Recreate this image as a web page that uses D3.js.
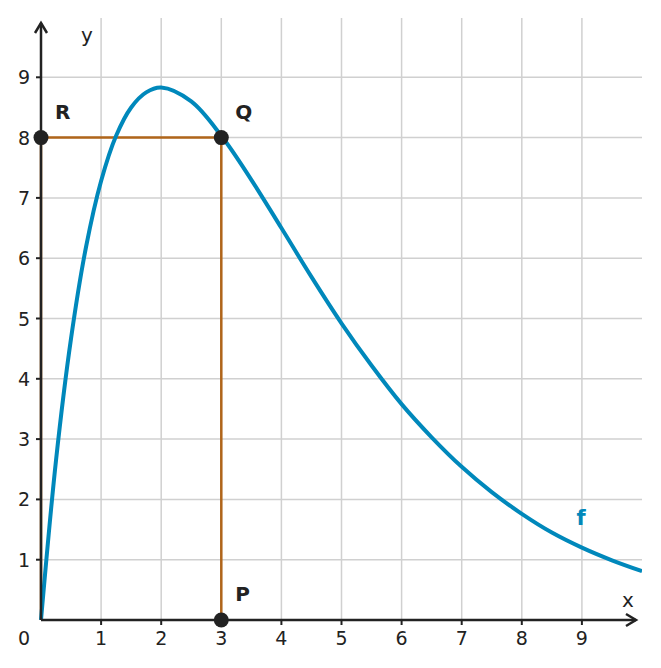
<!DOCTYPE html>
<html>
<head>
<meta charset="utf-8">
<script src="https://cdn.jsdelivr.net/npm/d3@7"></script>
<style>body{margin:0;background:#fff}text{font-family:"DejaVu Sans",sans-serif}</style>
</head>
<body>
<svg id="chart" width="661" height="668"></svg>
<script>
// values
const curveX = [0, 0.25, 0.5, 0.75, 1, 1.25, 1.5, 1.75, 2, 2.5, 3, 3.5, 4, 4.5, 5, 5.5, 6, 6.5, 7, 7.5, 8, 8.5, 9, 9.5, 10];
const curveY = [0, 2.65, 4.67, 6.19, 7.28, 8.03, 8.5, 8.75, 8.83, 8.6, 8.03, 7.3, 6.5, 5.69, 4.92, 4.22, 3.58, 3.03, 2.54, 2.12, 1.76, 1.45, 1.2, 0.99, 0.81];
const tickValues = [1, 2, 3, 4, 5, 6, 7, 8, 9];
const pointNames = ['P', 'Q', 'R'];
const pointX = [3, 3, 0];
const pointY = [0, 8, 8];

const svg = d3.select('#chart');
const x = d3.scaleLinear().domain([0, 10]).range([41, 642]);
const y = d3.scaleLinear().domain([0, 10]).range([620, 17]);

const blue = '#0088bb', brown = '#b0651a', dark = '#222';

// grid
svg.append('g').selectAll('line').data(tickValues).join('line')
  .attr('x1', d => x(d)).attr('x2', d => x(d))
  .attr('y1', y(0)).attr('y2', 18)
  .attr('stroke', '#d0d0d0').attr('stroke-width', 1.5);
svg.append('g').selectAll('line').data(tickValues).join('line')
  .attr('y1', d => y(d)).attr('y2', d => y(d))
  .attr('x1', x(0)).attr('x2', 642)
  .attr('stroke', '#d0d0d0').attr('stroke-width', 1.5);

// brown guide lines
svg.append('path')
  .attr('d', `M${x(0)},${y(0)}V${y(8)}H${x(3)}V${y(0)}`)
  .attr('fill', 'none').attr('stroke', brown).attr('stroke-width', 2.5);

// curve
const pts = curveX.map((d, i) => [d, curveY[i]]);
svg.append('defs').append('clipPath').attr('id', 'clip')
  .append('rect').attr('x', 0).attr('y', 0).attr('width', 642).attr('height', 668);
svg.append('path').datum(pts)
  .attr('clip-path', 'url(#clip)')
  .attr('d', d3.line().x(d => x(d[0])).y(d => y(d[1])).curve(d3.curveCatmullRom))
  .attr('fill', 'none').attr('stroke', blue).attr('stroke-width', 4);

// axes
svg.append('line').attr('x1', x(0)).attr('x2', 636).attr('y1', y(0)).attr('y2', y(0))
  .attr('stroke', dark).attr('stroke-width', 2.5);
svg.append('path').attr('d', `M626,${y(0) - 6}L636,${y(0)}L626,${y(0) + 6}`)
  .attr('fill', 'none').attr('stroke', dark).attr('stroke-width', 2.5);
svg.append('line').attr('x1', x(0)).attr('x2', x(0)).attr('y1', y(0)).attr('y2', 23)
  .attr('stroke', dark).attr('stroke-width', 2.5);
svg.append('path').attr('d', `M${x(0) - 6},33L${x(0)},23L${x(0) + 6},33`)
  .attr('fill', 'none').attr('stroke', dark).attr('stroke-width', 2.5);

svg.append('g').selectAll('line').data(tickValues).join('line')
  .attr('x1', d => x(d)).attr('x2', d => x(d)).attr('y1', y(0)).attr('y2', y(0) + 5)
  .attr('stroke', dark).attr('stroke-width', 2);
svg.append('g').selectAll('line').data(tickValues).join('line')
  .attr('y1', d => y(d)).attr('y2', d => y(d)).attr('x1', x(0) - 5).attr('x2', x(0))
  .attr('stroke', dark).attr('stroke-width', 2);

svg.append('g').selectAll('text').data([0].concat(tickValues)).join('text')
  .attr('x', d => d === 0 ? 24 : x(d)).attr('y', 645)
  .attr('text-anchor', 'middle').attr('font-size', 19).attr('fill', dark)
  .text(d => d);
svg.append('g').selectAll('text').data(tickValues).join('text')
  .attr('x', 24).attr('y', d => y(d) + 7)
  .attr('text-anchor', 'middle').attr('font-size', 19).attr('fill', dark)
  .text(d => d);

svg.append('text').attr('x', 628).attr('y', 607).attr('text-anchor', 'middle')
  .attr('font-size', 20).attr('fill', dark).text('x');
svg.append('text').attr('x', 87).attr('y', 42).attr('text-anchor', 'middle')
  .attr('font-size', 20).attr('fill', dark).text('y');

// points
svg.append('g').selectAll('circle').data(pointNames).join('circle')
  .attr('cx', (d, i) => x(pointX[i])).attr('cy', (d, i) => y(pointY[i]))
  .attr('r', 7.5).attr('fill', dark);
svg.append('g').selectAll('text').data(pointNames).join('text')
  .attr('x', (d, i) => x(pointX[i]) + 14).attr('y', (d, i) => y(pointY[i]) - 19)
  .attr('font-size', 20).attr('font-weight', 'bold').attr('fill', dark)
  .text(d => d);

svg.append('text').attr('x', 581).attr('y', 525).attr('text-anchor', 'middle')
  .attr('font-size', 21).attr('font-weight', 'bold').attr('fill', blue).text('f');
</script>
</body>
</html>
